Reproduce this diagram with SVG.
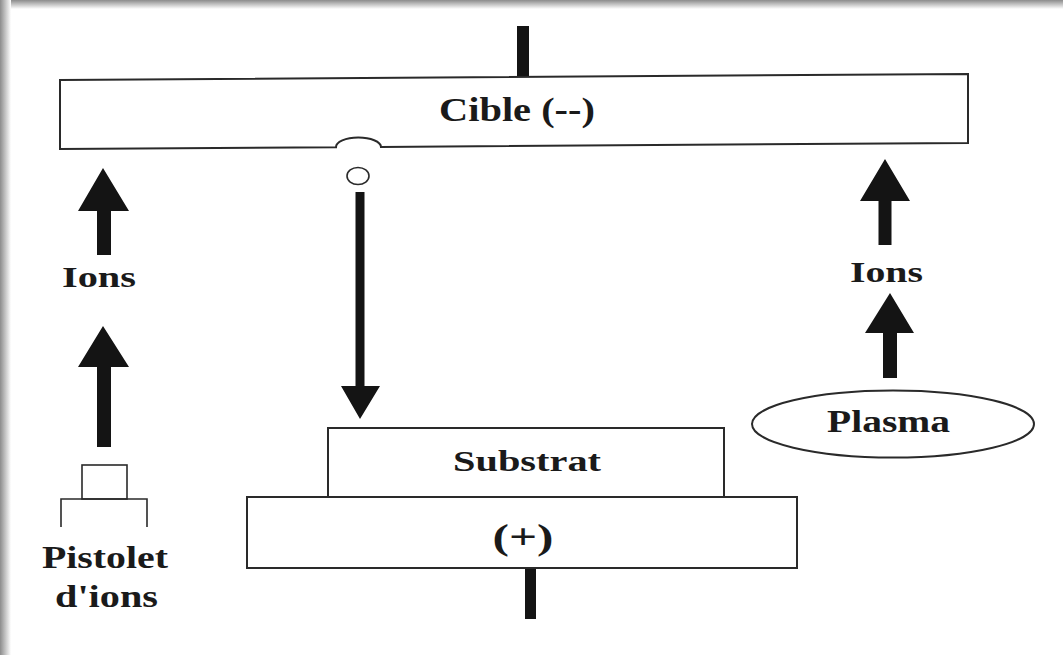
<svg xmlns="http://www.w3.org/2000/svg" width="1063" height="655" viewBox="0 0 1063 655">
  <defs>
    <linearGradient id="gTop" x1="0" y1="0" x2="0" y2="1">
      <stop offset="0" stop-color="#8c8c8c"/>
      <stop offset="1" stop-color="#ffffff"/>
    </linearGradient>
    <linearGradient id="gLeft" x1="0" y1="0" x2="1" y2="0">
      <stop offset="0" stop-color="#8c8c8c"/>
      <stop offset="1" stop-color="#ffffff"/>
    </linearGradient>
    <style>
      .box { fill: #ffffff; stroke: #2a2a2a; stroke-width: 2; }
      .thin { fill: none; stroke: #2a2a2a; stroke-width: 1.6; }
      .arrow { fill: #141414; stroke: none; }
      .bar { fill: #141414; }
      .lbl { font-family: "Liberation Serif", "Times New Roman", serif; font-weight: bold; fill: #1a1a1a; text-anchor: middle; }
    </style>
  </defs>

  <rect x="0" y="0" width="1063" height="655" fill="#ffffff"/>
  <rect x="0" y="0" width="1063" height="9" fill="url(#gTop)"/>
  <rect x="0" y="0" width="11" height="655" fill="url(#gLeft)"/>

  <g id="connectors">
    <rect class="bar" x="517" y="26" width="12" height="52"/>
    <rect class="bar" x="525" y="567" width="11" height="52"/>
    <path class="arrow" d="M103,168 L129,211 L111,211 L111,255 L97,255 L97,211 L78,211 Z"/>
    <path class="arrow" d="M103,326 L129,367 L111,367 L111,447 L97,447 L97,367 L78,367 Z"/>
    <path class="arrow" d="M885,159 L910,201 L891.5,201 L891.5,245 L878.5,245 L878.5,201 L860,201 Z"/>
    <path class="arrow" d="M890,293 L914,333 L897,333 L897,378 L883,378 L883,333 L865,333 Z"/>
    <path class="arrow" d="M355.5,192 L364.5,192 L364.5,386 L380,386 L360,419 L341,386 L355.5,386 Z"/>
    <ellipse class="thin" cx="358" cy="176" rx="11" ry="8.5"/>
  </g>

  <g id="cible">
    <path class="box" d="M60,80 L968,74 L968,143 L381,146.9 A22.5,9.5 0 0 0 336,147.2 L60,149 Z"/>
    <text class="lbl" x="517" y="121" font-size="33" textLength="156" lengthAdjust="spacingAndGlyphs">Cible (--)</text>
  </g>

  <g id="ions-left">
    <text class="lbl" x="99" y="287" font-size="30" textLength="74" lengthAdjust="spacingAndGlyphs">Ions</text>
  </g>

  <g id="ions-right">
    <text class="lbl" x="886.5" y="282" font-size="30" textLength="73" lengthAdjust="spacingAndGlyphs">Ions</text>
  </g>

  <g id="pistolet">
    <rect class="thin" x="82" y="465" width="45" height="34"/>
    <path class="thin" d="M61,527 V499 H147 V527"/>
    <text class="lbl" x="105" y="568" font-size="31" textLength="126" lengthAdjust="spacingAndGlyphs">Pistolet</text>
    <text class="lbl" x="106.5" y="607" font-size="31" textLength="103" lengthAdjust="spacingAndGlyphs">d'ions</text>
  </g>

  <g id="plasma">
    <ellipse class="box" cx="893" cy="424" rx="141" ry="33.5" stroke-width="1.6"/>
    <text class="lbl" x="888.5" y="432" font-size="32" textLength="123" lengthAdjust="spacingAndGlyphs">Plasma</text>
  </g>

  <g id="substrat">
    <rect class="box" x="328" y="428" width="396" height="69"/>
    <text class="lbl" x="527" y="471" font-size="30" textLength="148" lengthAdjust="spacingAndGlyphs">Substrat</text>
  </g>

  <g id="electrode">
    <rect class="box" x="247" y="497" width="550" height="71"/>
    <text class="lbl" x="523" y="549" font-size="36" textLength="61" lengthAdjust="spacingAndGlyphs">(+)</text>
  </g>
</svg>
